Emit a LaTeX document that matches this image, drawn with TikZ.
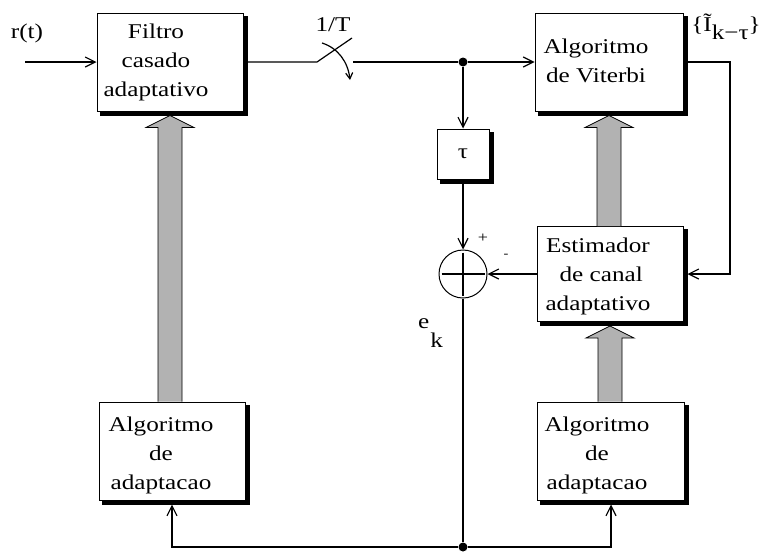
\documentclass[tikz,border=0pt]{standalone}
\usepackage{fontspec}
\setmainfont[FakeStretch=1.2]{Liberation Serif}
\usetikzlibrary{arrows.meta,calc}

% wide shaded arrow from the top of one block to the bottom of another
\newcommand\fatarrow[2]{%
  \draw[fat] ($(#2.south |- #1.north)+(-12,0)$) -- ($(#2.south)+(-12,16)$)
    -- ($(#2.south)+(-24,16)$) -- ($(#2.south)+(0,4)$) -- ($(#2.south)+(24,16)$)
    -- ($(#2.south)+(12,16)$) -- ($(#2.south |- #1.north)+(12,0)$);}
% solid black band along the right and bottom sides of a block
\newcommand\blockedge[1]{%
  \fill[black] ($(#1.north east)+(0,3)$) rectangle ($(#1.south east)+(4,4)$);
  \fill[black] ($(#1.south west)+(3,0)$) rectangle ($(#1.south east)+(4,4)$);}

\begin{document}
\begin{tikzpicture}[x=1pt,y=-1pt,
  font=\fontsize{21}{29}\selectfont,
  blk/.style={draw, line width=1pt, fill=white, inner sep=0pt},
  lbl/.style={align=center, inner sep=0pt},
  sig/.style={line width=1.2pt},
  arr/.style={sig, -{Straight Barb[length=10pt,width=10pt]}},
  fat/.style={draw, line width=0.8pt, fill=black!30},
  dotj/.style={circle, fill, inner sep=0pt, minimum size=9pt}
]
\useasboundingbox (0,0) rectangle (762,552);

% blocks
\node[blk, minimum width=146pt, minimum height=98pt] (filtro) at (170,62) {};
\node[lbl] (filtroT) at ([xshift=-14pt]filtro.center) {Filtro\\casado\\adaptativo};

\node[blk, minimum width=148pt, minimum height=98pt] (viterbi) at (609,62) {};
\node[lbl] (viterbiT) at ([xshift=-13pt,yshift=1pt]viterbi.center) {Algoritmo\\de Viterbi};

\node[blk, minimum width=52pt, minimum height=50pt] (tau) at (463,154) {τ};

\node[draw, circle, line width=1pt, minimum size=48pt, inner sep=0pt] (sum) at (463,274) {};
\draw[sig] ([xshift=3pt]sum.west) -- ([xshift=-3pt]sum.east);
\draw[sig] ([yshift=-3pt]sum.north) -- ([yshift=3pt]sum.south);

\node[blk, minimum width=146pt, minimum height=95pt] (est) at (610,274) {};
\node[lbl] (estT) at ([xshift=-12pt,yshift=-2pt]est.center) {Estimador\\\ de canal\\adaptativo};

\node[blk, minimum width=146pt, minimum height=98pt] (algL) at (172,451) {};
\node[lbl] (algLT) at ([xshift=-11pt,yshift=-4pt]algL.center) {Algoritmo\\de\\adaptacao};

\node[blk, minimum width=147pt, minimum height=98pt] (algR) at (611,451) {};
\node[lbl] (algRT) at ([xshift=-14pt,yshift=-4pt]algR.center) {Algoritmo\\de\\adaptacao};

\blockedge{filtro}
\blockedge{viterbi}
\blockedge{tau}
\blockedge{est}
\blockedge{algL}
\blockedge{algR}

% labels
\node (rt) at (27,33) {r(t)};
\node (rate) at (333,25) {1/T};
\node[anchor=east, inner sep=0pt] (ihat) at (761,27) {\{Ĩ\raisebox{-8pt}{k−τ}\}};
\node[anchor=base west, inner sep=0pt] (ek) at (418,328) {e\kern1pt\raisebox{-19pt}{k}};
\node[font=\fontsize{15}{15}\selectfont] (plus) at (483,238) {+};
\node[font=\fontsize{12}{12}\selectfont] (minus) at (506,256) {-};

% input and sampler
\coordinate (in) at (25,62);
\draw[arr] (in) -- (filtro.west);
\coordinate (sw1) at (317,62);
\coordinate (sw2) at (352,38);
\coordinate (sw3) at (353,62);
\coordinate (sa) at (322,43);
\coordinate (sb) at (350,80);
\draw[sig] ($(filtro.east)+(4,0)$) -- (sw1) -- (sw2);
\draw[sig, -{Straight Barb[length=6pt,width=7pt]}] (sa) .. controls (338,48) and (348,62) .. (sb);

% signal paths
\node[dotj] (j1) at (463,62) {};
\draw[sig] (sw3) -- (j1);
\draw[arr] (j1) -- (viterbi.west);
\draw[arr] (j1) -- (tau.north);
\draw[arr] ($(tau.south)+(0,4)$) -- (sum.north);
\draw[arr] (est.west) -- (sum.east);

\coordinate (fb1) at (730,62);
\coordinate (fb2) at (730,274);
\draw[arr] ($(viterbi.east)+(4,0)$) -- (fb1) -- (fb2) -- ($(est.east)+(4,0)$);

\node[dotj] (j2) at (463,547) {};
\coordinate (bl) at (172,547);
\coordinate (br) at (611,547);
\draw[sig] (sum.south) -- (j2);
\draw[arr] (j2) -- (bl) -- ($(algL.south)+(0,4)$);
\draw[arr] (j2) -- (br) -- ($(algR.south)+(0,4)$);

% adaptation paths
\fatarrow{algL}{filtro}
\fatarrow{est}{viterbi}
\fatarrow{algR}{est}
\end{tikzpicture}
\end{document}
